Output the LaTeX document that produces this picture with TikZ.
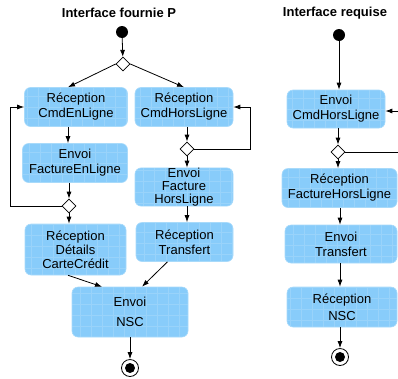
\documentclass[tikz,border=0pt]{standalone}
\usepackage{fontspec}
\setmainfont{Liberation Sans}
\usetikzlibrary{shapes.geometric,arrows.meta}
\definecolor{bleuact}{RGB}{136,204,250}
\definecolor{bordact}{RGB}{168,218,250}

\tikzset{
  activite/.style={rectangle, rounded corners=6pt, fill=bleuact, draw=bordact, line width=0.6pt,
    align=center, inner sep=2pt, font=\fontsize{13pt}{15pt}\selectfont,
    path picture={\draw[white, opacity=0.15, line width=0.5pt, step=11pt]
      (path picture bounding box.south west) grid (path picture bounding box.north east);}},
  titre/.style={font=\fontsize{13pt}{15pt}\selectfont\bfseries},
  debut/.style={circle, fill=black, minimum size=12pt, inner sep=0pt},
  fin/.style={circle, draw=black, line width=0.8pt, minimum size=17pt, inner sep=0pt,
    path picture={\fill[black] (path picture bounding box.center) circle (5pt);}},
  choix/.style={diamond, draw=black, fill=white, line width=0.7pt, minimum width=14pt,
    minimum height=14pt, inner sep=0pt},
  fleche/.style={draw=black, line width=0.8pt, -{Latex[length=7pt,width=5pt]}},
  trait/.style={draw=black, line width=0.8pt}
}

\begin{document}
\begin{tikzpicture}[x=1pt,y=-1pt]
\useasboundingbox (0,0) rectangle (398,378);

% interface fournie
\node[titre] (t1) at (119,13) {Interface fournie P};
\node[debut] (d1) at (122,32) {};
\node[choix] (c1) at (123,64) {};
\node[activite, minimum width=103pt, minimum height=39pt] (rcel) at (76,107) {Réception\\CmdEnLigne};
\node[activite, minimum width=98pt, minimum height=39pt] (rchl) at (184,107) {Réception\\CmdHorsLigne};
\node[activite, minimum width=105pt, minimum height=39pt] (efel) at (75,163) {Envoi\\FactureEnLigne};
\node[choix] (c3) at (187,149) {};
\node[activite, minimum width=98pt, minimum height=38pt, inner sep=0pt, font=\fontsize{13pt}{13pt}\selectfont] (efhl) at (184,187) {Envoi\\Facture\\HorsLigne};
\node[choix] (c2) at (69,206) {};
\node[activite, minimum width=101pt, minimum height=51pt, font=\fontsize{13pt}{14pt}\selectfont] (rdcc) at (75.5,249.5) {Réception\\Détails\\CarteCrédit};
\node[activite, minimum width=97pt, minimum height=39pt] (rt) at (184.5,242) {Réception\\Transfert};
\node[activite, minimum width=116pt, minimum height=50pt, font=\fontsize{13pt}{20pt}\selectfont] (ensc) at (130,312) {Envoi\\NSC};
\node[fin] (f1) at (130,368) {};

\draw[fleche] (d1) -- (c1);
\draw[fleche] (c1.west) -- ([xshift=-8pt]rcel.north);
\draw[fleche] (c1.east) -- (rchl.north);
\draw[fleche] ([xshift=-8pt]rcel.south) -- ([xshift=-7pt]efel.north);
\draw[fleche] ([xshift=-6pt]efel.south) -- (c2);
\draw[fleche] (c2) -- ([xshift=-6.5pt]rdcc.north);
\draw[fleche] (c2.west) -| ([xshift=-14pt]rcel.west) -- (rcel.west);
\draw[fleche] (rchl.south -| c3) -- (c3);
\draw[fleche] (c3) -- (c3 |- efhl.north);
\draw[fleche] (c3.east) -| ([xshift=17pt]rchl.east) -- (rchl.east);
\draw[fleche] (efhl.south -| c3) -- (c3 |- rt.north);
\draw[fleche] ([xshift=-7.5pt]rdcc.south) -- ([xshift=-28pt]ensc.north);
\draw[fleche] ([xshift=-17pt]rt.south) -- ([xshift=12pt]ensc.north);
\draw[fleche] (ensc) -- (f1);

% interface requise
\node[titre] (t2) at (335,13) {Interface requise};
\node[debut] (d2) at (339,35) {};
\node[activite, minimum width=98pt, minimum height=38pt] (echl) at (336,109) {Envoi\\CmdHorsLigne};
\node[choix] (c4) at (338,152) {};
\node[activite, minimum width=115pt, minimum height=39pt] (rfhl) at (339.5,188) {Réception\\FactureHorsLigne};
\node[activite, minimum width=112pt, minimum height=38pt] (et) at (341,244) {Envoi\\Transfert};
\node[activite, minimum width=110pt, minimum height=40pt, font=\fontsize{13pt}{17pt}\selectfont] (rnsc) at (342,307) {Réception\\NSC};
\node[fin] (f2) at (340,357) {};
\coordinate (bord1) at (400,152);
\coordinate (bord2) at (400,111);

\draw[fleche] (d2) -- (d2 |- echl.north);
\draw[fleche] (echl.south -| c4) -- (c4);
\draw[fleche] (c4) -- (c4 |- rfhl.north);
\draw[trait] (c4.east) -- (bord1);
\draw[fleche] (bord2) -- (bord2 -| echl.east);
\draw[fleche] (rfhl.south -| f2) -- (f2 |- et.north);
\draw[fleche] (et.south -| f2) -- (f2 |- rnsc.north);
\draw[fleche] (rnsc.south -| f2) -- (f2);
\end{tikzpicture}
\end{document}
